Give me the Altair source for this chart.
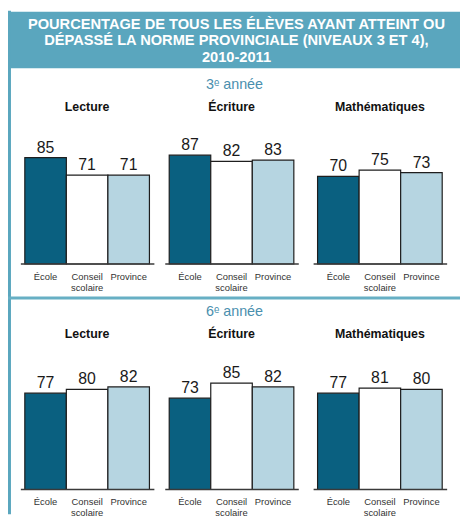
import altair as alt
import pandas as pd

# ---------------- data ----------------
subjects = ["Lecture", "Écriture", "Mathématiques"]
groups = ["École", "Conseil scolaire", "Province"]
group_labels = ["École", "Conseil\nscolaire", "Province"]
grades = ["3ᵉ année", "6ᵉ année"]

values_3e_lecture = [85, 71, 71]
values_3e_ecriture = [87, 82, 83]
values_3e_maths = [70, 75, 73]
values_6e_lecture = [77, 80, 82]
values_6e_ecriture = [73, 85, 82]
values_6e_maths = [77, 81, 80]

title_lines = [
    "POURCENTAGE DE TOUS LES ÉLÈVES AYANT ATTEINT OU",
    "DÉPASSÉ LA NORME PROVINCIALE (NIVEAUX 3 ET 4),",
    "2010-2011",
]

values = [
    [values_3e_lecture, values_3e_ecriture, values_3e_maths],
    [values_6e_lecture, values_6e_ecriture, values_6e_maths],
]

# ---------------- style / layout ----------------
FONT = "Liberation Sans, Arial, DejaVu Sans"
TEAL = "#5AA6BE"
TEAL_SEP = "#67AFC4"
GRADE_COLOR = "#4A8FAE"
BAR_COLORS = ["#0A6080", "#FFFFFF", "#B6D5E1"]

W, H = 457, 509
panel_x0 = [17, 163, 313]
panel_w = 126
px_per_unit = 1.265
baseline_y = [256, 484]
grade_y = [79, 309]
subject_y = [101.5, 331]
label_y = [269.5, 496.5]

one = pd.DataFrame({"k": [0]})


def deco_rect(x, x2, y, y2, color):
    return alt.Chart(one).mark_rect(color=color).encode(
        x=alt.value(x), x2=alt.value(x2), y=alt.value(y), y2=alt.value(y2)
    )


def deco_text(txt, x, y, **kw):
    return alt.Chart(one).mark_text(text=txt, font=FONT, **kw).encode(
        x=alt.value(x), y=alt.value(y)
    )


def panel(gi, si):
    df = pd.DataFrame({
        "groupe": groups,
        "etiquette": group_labels,
        "valeur": values[gi][si],
    })
    x0 = panel_x0[si]
    base = baseline_y[gi]
    xs = alt.Scale(domain=groups, range=[x0, x0 + panel_w], paddingInner=0, paddingOuter=0)
    ys = alt.Scale(domain=[0, 100], range=[base, base - 100 * px_per_unit], nice=False, zero=True)
    X = alt.X("groupe:N", scale=xs, axis=None, sort=groups)
    Y = alt.Y("valeur:Q", scale=ys, axis=None)

    bars = alt.Chart(df).mark_bar(stroke="#1e1e1e", strokeWidth=1.2).encode(
        x=X, y=Y,
        color=alt.Color("groupe:N", scale=alt.Scale(domain=groups, range=BAR_COLORS), legend=None),
    )
    vals = alt.Chart(df).mark_text(
        dy=-5, baseline="alphabetic", fontSize=16, font=FONT, color="#1a1a1a"
    ).encode(x=X, y=Y, text="valeur:Q")
    labels = alt.Chart(df).mark_text(
        baseline="middle", fontSize=9.5, lineHeight=11, lineBreak="\n", font=FONT, color="#333333"
    ).encode(x=X, y=alt.value(label_y[gi]), text="etiquette:N")
    rule = alt.Chart(one).mark_rule(color="#3a3a3a", strokeWidth=1.5).encode(
        x=alt.value(x0 - 4), x2=alt.value(x0 + panel_w + 5), y=alt.value(base)
    )
    title = deco_text(subjects[si], x0 + panel_w / 2, subject_y[gi],
                      fontSize=12.5, fontWeight="bold", color="#111111",
                      align="center", baseline="alphabetic")
    return alt.layer(bars, rule, vals, labels, title)


layers = [
    deco_rect(0, W, 1, 58, TEAL),
    deco_rect(0, 3, 0, H, TEAL),
    deco_rect(0, W, 289, 292, TEAL_SEP),
]
for i, line in enumerate(title_lines):
    layers.append(deco_text(line, 231, 18.5 + i * 16.5, fontSize=14.8, fontWeight="bold",
                            color="white", align="center", baseline="alphabetic"))
for gi, g in enumerate(grades):
    layers.append(deco_text(g, 229, grade_y[gi], fontSize=14.5, color=GRADE_COLOR,
                            align="center", baseline="alphabetic"))

for gi in range(2):
    for si in range(3):
        layers.append(panel(gi, si))

chart = alt.layer(*layers).resolve_scale(
    x="independent", y="independent", color="independent"
).properties(
    width=W, height=H, padding=0,
    autosize=alt.AutoSizeParams(type="none"),
    background="white",
).configure_view(stroke=None)

chart.save("out.html", embed_options={"renderer": "svg", "actions": False})
